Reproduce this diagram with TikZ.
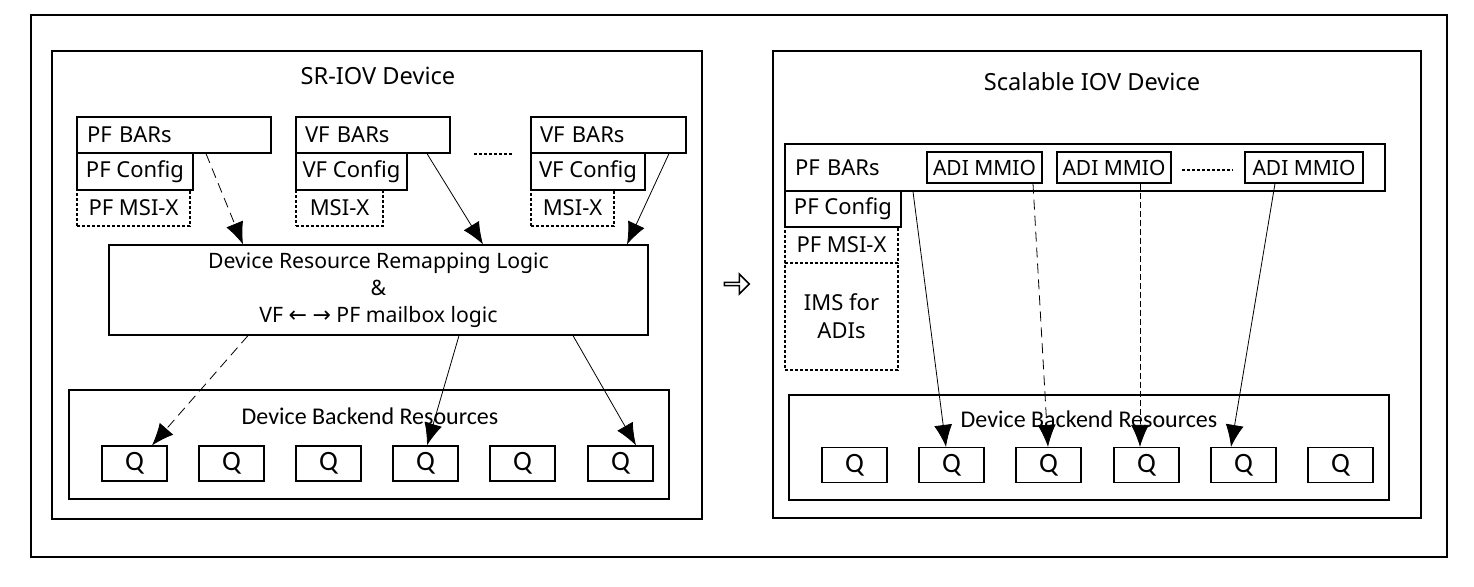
\documentclass[tikz,border=0pt]{standalone}
\usepackage{fontspec}
\setmainfont{Noto Sans}
\newfontfamily\calfont{Carlito}
\newfontfamily\symfont{DejaVu Sans}
\usetikzlibrary{shapes,arrows,arrows.meta}
\usetikzlibrary{calc}
\usetikzlibrary{positioning}
\tikzstyle{box} = [draw, semithick, rectangle, inner sep=0pt,
    font=\fontsize{11}{13}\selectfont]
\tikzstyle{msibox} = [box, line width=1.3pt, dash pattern=on 1.5pt off 1pt]
\tikzstyle{frame} = [draw, line width=1pt, rectangle, inner sep=0pt]
\tikzstyle{qbox} = [box, minimum width=32.5pt, minimum height=17.5pt,
    font=\calfont\fontsize{14}{16}\selectfont]
\tikzstyle{title} = [font=\fontsize{11.8}{14}\selectfont]
\tikzstyle{btitle} = [font=\calfont\fontsize{12}{14}\selectfont]
\tikzstyle{link} = [-{Latex[length=11pt,width=9pt]}, thin]
\newcommand{\lar}{{\symfont\fontsize{11}{12}\selectfont ←}}
\newcommand{\rar}{{\symfont\fontsize{11}{12}\selectfont →}}

\begin{document}
\begin{tikzpicture}[x=0.5pt, y=-0.5pt]
    \useasboundingbox (0,0) rectangle (1474,586);

    % outer frame
    \node[frame, minimum width=708pt, minimum height=271pt] at (739,286) (outer) {};

    % SR-IOV side
    \node[frame, line width=0.8pt, minimum width=325pt, minimum height=234pt] at (377,285) (sriov) {};
    \node[title] at (378,76) (sriovtitle) {SR-IOV Device};

    \node[box, minimum width=97pt, minimum height=18pt, text width=87pt, align=left] at (174,135) (pfbar) {PF BARs};
    \node[box, minimum width=58pt, minimum height=18.5pt] at (135,171.5) (pfcfg) {PF Config};
    \node[msibox, minimum width=56.5pt, minimum height=18pt] at (133.5,208) (pfmsi) {PF MSI-X};

    \node[box, minimum width=77pt, minimum height=18pt, text width=68pt, align=left] at (373,135) (vfbara) {VF BARs};
    \node[box, minimum width=55.5pt, minimum height=18.5pt] at (351.5,171.5) (vfcfga) {VF Config};
    \node[msibox, minimum width=43.5pt, minimum height=18pt] at (339.5,208) (vfmsia) {MSI-X};

    \draw[line width=1.3pt, dash pattern=on 1.5pt off 1pt] (474,154) -- (513,154);

    \node[box, minimum width=77.5pt, minimum height=18pt, text width=68.5pt, align=left] at (608.5,135) (vfbarb) {VF BARs};
    \node[box, minimum width=57pt, minimum height=18.5pt] at (588,171.5) (vfcfgb) {VF Config};
    \node[msibox, minimum width=41.5pt, minimum height=18pt] at (572.5,208) (vfmsib) {MSI-X};

    \node[box, minimum width=269.5pt, minimum height=45pt, align=center,
        font=\fontsize{10.6}{13}\selectfont] at (378.5,290) (remap)
        {Device Resource Remapping Logic\\[0.5pt] \&\\[0.5pt] VF \lar\ \rar\ PF mailbox logic};

    \node[box, minimum width=300pt, minimum height=54.5pt] at (369,444.5) (backend) {};
    \node[btitle] at (370,416) (backendtitle) {Device Backend Resources};
    \foreach \i/\x in {1/134.5, 2/231.5, 3/328.5, 4/425.5, 5/522.5, 6/620.5}
        \node[qbox] at (\x,463.5) (q\i) {Q};

    \draw[link, dash pattern=on 5pt off 3pt] ($(pfbar.south)+(32,0)$) -- ($(remap.north)+(-135.5,0)$);
    \draw[link] ($(vfbara.south)+(54,0)$) -- ($(remap.north)+(104.5,0)$);
    \draw[link] ($(vfbarb.south)+(60.5,0)$) -- ($(remap.north)+(248.5,0)$);
    \draw[link, dash pattern=on 5pt off 3pt] ($(remap.south)+(-130.5,0)$) -- ($(q1.north)+(17.5,0)$);
    \draw[link] ($(remap.south)+(80.5,0)$) -- ($(q4.north)+(1.5,0)$);
    \draw[link] ($(remap.south)+(194.5,0)$) -- ($(q6.north)+(15.5,0)$);

    % hollow arrow between the two devices
    \node[single arrow, draw, thick, minimum height=12.5pt, minimum width=10pt,
        single arrow head extend=2pt, inner sep=0pt] at (736,284) (shift) {};

    % Scalable IOV side
    \node[frame, line width=0.8pt, minimum width=324pt, minimum height=233.5pt] at (1097,284.5) (siov) {};
    \node[title] at (1092,82) (siovtitle) {Scalable IOV Device};

    \node[box, minimum width=300pt, minimum height=23.5pt, text width=290pt, align=left] at (1085,167.5) (rpfbar) {PF BARs};
    \node[box, minimum width=57.5pt, minimum height=15.5pt, font=\fontsize{10.5}{12}\selectfont] at (984.5,167.5) (adia) {ADI MMIO};
    \node[box, minimum width=57pt, minimum height=15.5pt, font=\fontsize{10.5}{12}\selectfont] at (1114,167.5) (adib) {ADI MMIO};
    \node[box, minimum width=59pt, minimum height=15.5pt, font=\fontsize{10.5}{12}\selectfont] at (1304,167.5) (adic) {ADI MMIO};
    \draw[line width=1.3pt, dash pattern=on 1.5pt off 1pt] (1182,170) -- (1233,170);

    \node[box, minimum width=58pt, minimum height=18pt] at (843,209) (rpfcfg) {PF Config};
    \node[msibox, minimum width=56.5pt, minimum height=18pt] at (841.5,245) (rpfmsi) {PF MSI-X};
    \node[msibox, minimum width=56.5pt, minimum height=53.5pt, align=center] at (841.5,316.5) (ims) {IMS for\\[1pt] ADIs};

    \node[box, minimum width=300pt, minimum height=52.5pt] at (1089,447.5) (rbackend) {};
    \node[btitle] at (1089,419) (rbackendtitle) {Device Backend Resources};
    \foreach \i/\x in {1/854.5, 2/951.5, 3/1048.5, 4/1146.5, 5/1243.5, 6/1340.5}
        \node[qbox] at (\x,465) (rq\i) {Q};

    \draw[link] ($(rpfbar.south)+(-172,0)$) -- ($(rq2.north)+(-5.5,0)$);
    \draw[link, dash pattern=on 5pt off 3pt] ($(adia.south)+(48.5,0)$) -- ($(rq3.north)+(-0.5,0)$);
    \draw[link, dash pattern=on 3pt off 1.5pt] ($(adib.south)+(26,0)$) -- ($(rq4.north)+(-6.5,0)$);
    \draw[link] ($(adic.south)+(-29,0)$) -- ($(rq5.north)+(-12.5,0)$);
\end{tikzpicture}
\end{document}
